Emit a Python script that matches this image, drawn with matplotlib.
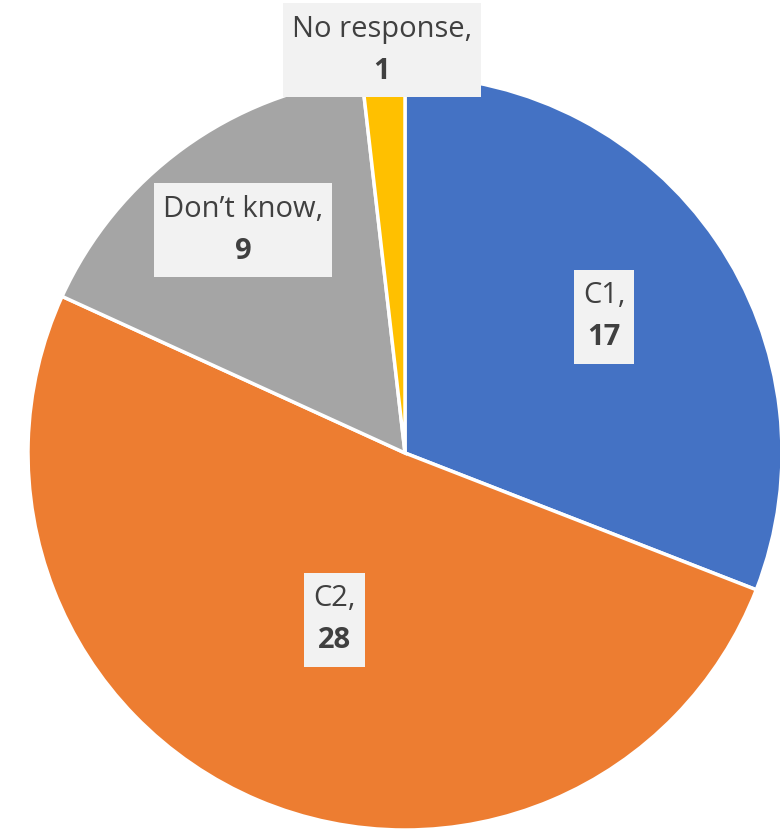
"""
Pie chart - C1 / C2 / Don't know / No response
"""

import numpy as np
import matplotlib
matplotlib.use('Agg')
import matplotlib.pyplot as plt
from matplotlib.patches import Rectangle

# data
labels = ['C1', 'C2', 'Don\u2019t know', 'No response']
values = [17, 28, 9, 1]
colors = ['#4472C4', '#ED7D31', '#A5A5A5', '#FFC000']
# how far out (fraction of radius) each data label sits
label_dist = [0.64, 0.48, 0.73, 1.07]

plt.rcParams['font.family'] = ['Open Sans', 'DejaVu Sans']

W, H = 780, 831
fig = plt.figure(figsize=(W / 100, H / 100), dpi=100)
ax = fig.add_axes([0, 0, 1, 1])

cx, cy, r = 405, H - 453, 377

wedges, _ = ax.pie(values, colors=colors, startangle=90, counterclock=False,
                   radius=r, center=(cx, cy),
                   wedgeprops=dict(edgecolor='white', linewidth=2.5))
ax.set_xlim(0, W)
ax.set_ylim(0, H)
ax.set_aspect('equal')
ax.axis('off')

fs = 21
txt_col = '#404040'
fig.canvas.draw()
renderer = fig.canvas.get_renderer()
for w, lab, val, d in zip(wedges, labels, values, label_dist):
    ang = np.deg2rad((w.theta1 + w.theta2) / 2)
    x = cx + d * r * np.cos(ang)
    y = cy + d * r * np.sin(ang)
    t1 = ax.text(x, y + 21, f'{lab},', fontsize=fs, ha='center', va='center',
                 color=txt_col, zorder=5)
    t2 = ax.text(x, y - 21, f'{val}', fontsize=fs, ha='center', va='center',
                 color=txt_col, fontweight='bold', zorder=5)
    # light grey box behind both lines
    b1 = t1.get_window_extent(renderer)
    b2 = t2.get_window_extent(renderer)
    x0 = min(b1.x0, b2.x0) - 9
    x1 = max(b1.x1, b2.x1) + 9
    y0 = y - 47
    y1 = y + 47
    ax.add_patch(Rectangle((x0, y0), x1 - x0, y1 - y0, facecolor='#F2F2F2',
                           edgecolor='none', zorder=4))

plt.savefig('out.png', dpi=100)
